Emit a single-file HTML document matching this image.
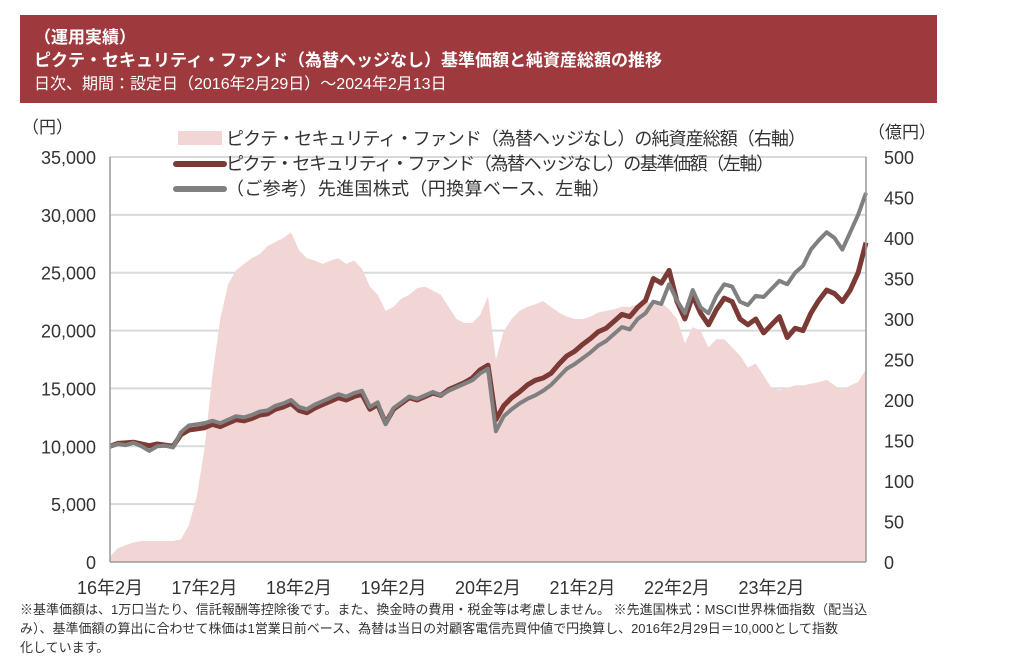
<!DOCTYPE html>
<html><head><meta charset="utf-8"><style>
body{margin:0;background:#fff;font-family:"Liberation Sans","Noto Sans CJK JP",sans-serif;}
#wrap{position:relative;width:1017px;height:672px;overflow:hidden;}
#hdr{position:absolute;left:20px;top:15px;width:917px;height:88px;background:#9e3a3e;color:#fff;}
#hdr div{position:absolute;left:14px;white-space:nowrap;}
.fn{position:absolute;left:20px;font-size:13px;color:#333;white-space:nowrap;}
</style></head><body>
<div id="wrap">
<div id="hdr">
 <div style="top:8px;font-size:17px;font-weight:bold">（運用実績）</div>
 <div style="top:31px;font-size:17px;font-weight:bold">ピクテ・セキュリティ・ファンド（為替ヘッジなし）基準価額と純資産総額の推移</div>
 <div style="top:55px;font-size:16px">日次、期間：設定日（2016年2月29日）～2024年2月13日</div>
</div>
<svg id="svg" width="1017" height="672" style="position:absolute;left:0;top:0"></svg>
<div class="fn" style="top:599px">※基準価額は、1万口当たり、信託報酬等控除後です。また、換金時の費用・税金等は考慮しません。 ※先進国株式：MSCI世界株価指数（配当込</div>
<div class="fn" style="top:618px">み）、基準価額の算出に合わせて株価は1営業日前ベース、為替は当日の対顧客電信売買仲値で円換算し、2016年2月29日＝10,000として指数</div>
<div class="fn" style="top:637px">化しています。</div>
</div>
<script>
const xLabels=["16年2月","17年2月","18年2月","19年2月","20年2月","21年2月","22年2月","23年2月"];
const leftTicks=[0,5000,10000,15000,20000,25000,30000,35000];
const rightTicks=[0,50,100,150,200,250,300,350,400,450,500];
const fund=[10000,10250,10300,10350,10200,10050,10200,10100,10000,11000,11400,11500,11600,11900,11700,12000,12300,12200,12400,12700,12800,13200,13400,13700,13100,12900,13300,13600,13900,14200,14000,14300,14500,13200,13600,12000,13200,13700,14200,14000,14300,14600,14400,14900,15200,15500,15900,16600,17000,12300,13500,14200,14700,15300,15700,15900,16300,17100,17800,18200,18800,19300,19900,20200,20800,21400,21200,22000,22600,24500,24100,25200,22500,21000,23000,21500,20500,21800,22800,22500,21000,20500,21000,19800,20500,21200,19400,20200,20000,21500,22600,23500,23200,22500,23500,25000,27600];
const bench=[10000,10200,10100,10300,10000,9600,10000,10050,9900,11200,11800,11900,12000,12200,12000,12300,12600,12500,12700,13000,13100,13500,13700,14000,13400,13200,13600,13900,14200,14500,14300,14600,14800,13400,13800,11900,13300,13800,14300,14100,14400,14700,14400,14800,15100,15400,15700,16300,16700,11300,12600,13200,13700,14100,14400,14800,15300,16000,16700,17100,17600,18100,18700,19100,19700,20300,20100,21000,21500,22500,22300,24000,22600,21500,23500,22000,21500,23000,24000,23800,22500,22200,23000,22900,23600,24300,24000,25000,25600,27000,27800,28500,28000,27000,28500,30000,31900];
const assets=[7,17,21,24,26,26,26,26,26,28,45,80,140,230,300,343,360,368,375,380,390,395,400,407,385,375,372,368,372,375,368,372,362,340,330,310,315,325,330,338,340,335,330,315,300,295,295,305,328,250,285,300,310,315,318,322,315,308,303,300,300,303,308,310,312,315,315,318,322,318,320,312,300,270,290,285,265,275,275,265,255,240,245,230,215,212,215,218,218,220,222,225,218,212,218,222,238];
const NS="http://www.w3.org/2000/svg";
const svg=document.getElementById('svg');
const X0=110,X1=866,Y0=562,Y1=157;
const xs=i=>X0+(X1-X0)*i/(fund.length-1);
const yl=v=>Y0-(Y0-Y1)*v/35000;
const yr=v=>Y0-(Y0-Y1)*v/500;
function mk(t,a){const e=document.createElementNS(NS,t);for(const k in a)e.setAttribute(k,a[k]);svg.appendChild(e);return e;}
leftTicks.forEach(v=>{if(v>0){const g=mk('line',{x1:X0,x2:X1,y1:yl(v),y2:yl(v),stroke:'#d9d9d9','stroke-width':2});

}});
let d='M'+xs(0)+','+Y0;assets.forEach((v,i)=>{d+=' L'+xs(i)+','+yr(v);});d+=' L'+xs(assets.length-1)+','+Y0+' Z';
const ar=mk('path',{d:d,fill:'#f2d5d5'});


function line(arr,col,w,name){let p='';arr.forEach((v,i)=>{p+=(i?' L':'M')+xs(i)+','+yl(v);});const e=mk('path',{d:p,fill:'none',stroke:col,'stroke-width':w,'stroke-linejoin':'round'});

}
line(fund,'#7b3a35',5,'fund-nav-line');
line(bench,'#808080',4,'benchmark-line');
const la=mk('line',{x1:X0,x2:X0,y1:Y1,y2:Y0,stroke:'#999','stroke-width':1.5});


const ra=mk('line',{x1:X1,x2:X1,y1:Y1,y2:Y0,stroke:'#999','stroke-width':1.5});


const ba=mk('line',{x1:X0,x2:X1,y1:Y0,y2:Y0,stroke:'#999','stroke-width':1.5});


function txt(s,x,y,anchor,size,name){const t=mk('text',{x:x,y:y,'text-anchor':anchor,'font-size':size,fill:'#333','font-family':'"Liberation Sans","Noto Sans CJK JP",sans-serif'});t.textContent=s;

return t;}
leftTicks.forEach(v=>txt(v.toLocaleString('en-US'),96,yl(v)+7,'end',18,'left-tick-label'));
rightTicks.forEach(v=>txt(String(v),884,yr(v)+7,'start',18,'right-tick-label'));
xLabels.forEach((s,i)=>txt(s,xs(i*12),594,'middle',18,'x-tick-label'));
txt('（円）',22,133,'start',17,'left-axis-unit');
txt('（億円）',868,138,'start',17,'right-axis-unit');
const lr=mk('rect',{x:178,y:131,width:44,height:14,fill:'#f2d5d5'});


const l2=mk('line',{x1:176,x2:224,y1:164,y2:164,stroke:'#7b3a35','stroke-width':6,'stroke-linecap':'round'});


const l3=mk('line',{x1:176,x2:224,y1:189,y2:189,stroke:'#808080','stroke-width':6,'stroke-linecap':'round'});


const t1=txt('ピクテ・セキュリティ・ファンド（為替ヘッジなし）の純資産総額（右軸）',226,145,'start',18,'legend-entry-assets');
t1.setAttribute('textLength','580');
const t2=txt('ピクテ・セキュリティ・ファンド（為替ヘッジなし）の基準価額（左軸）',226,170,'start',18,'legend-entry-fund');
t2.setAttribute('textLength','548');
const t3=txt('（ご参考）先進国株式（円換算ベース、左軸）',226,195,'start',18,'legend-entry-benchmark');
t3.setAttribute('textLength','384');
</script>
</body></html>
